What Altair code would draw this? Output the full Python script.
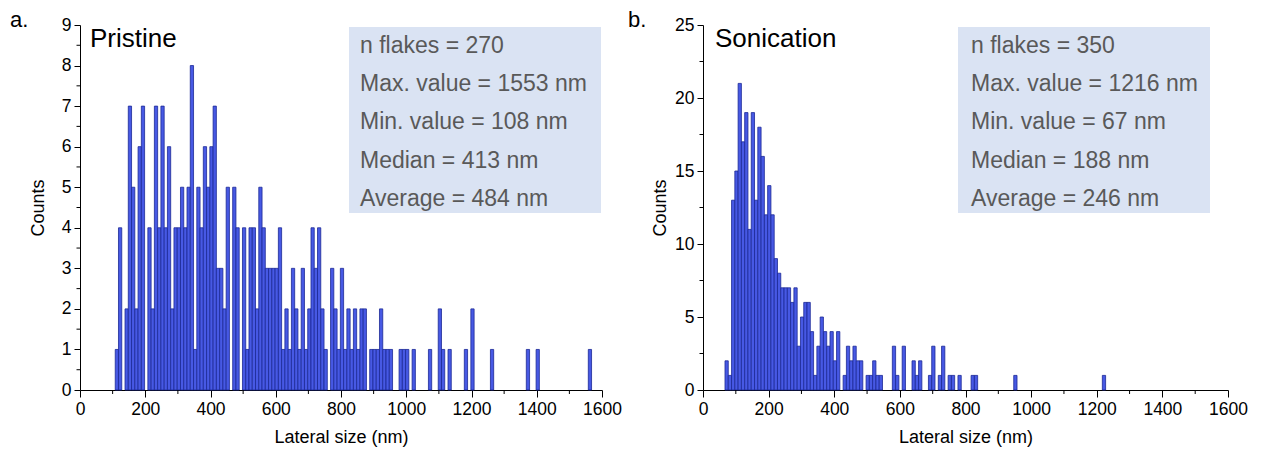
import altair as alt
import pandas as pd

FONT = "Liberation Sans"

# ---------------- data ----------------
bin_width = 10

# Panel a (Pristine): histogram counts per 10 nm bin, first bin starting at 108 nm
a_bin_start = 108
a_counts = [1, 4, 0, 2, 7, 5, 2, 6, 7, 0,
            4, 2, 7, 4, 7, 4, 6, 2, 4, 4,
            5, 4, 5, 8, 1, 5, 4, 6, 5, 6,
            7, 3, 3, 2, 5, 0, 5, 4, 0, 4,
            1, 4, 4, 2, 5, 4, 3, 3, 3, 3,
            4, 1, 2, 1, 3, 2, 1, 3, 1, 2,
            4, 3, 4, 2, 1, 0, 3, 2, 1, 3,
            1, 2, 1, 2, 1, 2, 2, 0, 1, 1,
            1, 2, 1, 1, 1, 0, 0, 1, 1, 1,
            0, 1, 0, 0, 0, 0, 1, 0, 0, 2,
            1, 0, 1, 0, 0, 0, 0, 1, 0, 2,
            0, 0, 0, 0, 0, 1, 0, 0, 0, 0,
            0, 0, 0, 0, 0, 0, 1, 0, 0, 1,
            0, 0, 0, 0, 0, 0, 0, 0, 0, 0,
            0, 0, 0, 0, 0, 1]

# Panel b (Sonication): first bin starting at 67 nm
b_bin_start = 67
b_counts = [2, 1, 13, 15, 21, 17, 19, 11, 19, 13,
            18, 16, 12, 14, 12, 9, 8, 7, 7, 7,
            6, 7, 3, 5, 6, 6, 4, 1, 3, 5,
            4, 3, 4, 2, 4, 0, 1, 3, 2, 3,
            2, 2, 0, 1, 1, 2, 1, 1, 0, 0,
            0, 3, 1, 0, 3, 0, 0, 2, 1, 2,
            0, 0, 1, 3, 0, 1, 3, 0, 1, 1,
            0, 1, 0, 0, 0, 1, 1, 0, 0, 0,
            0, 0, 0, 0, 0, 0, 0, 0, 1, 0,
            0, 0, 0, 0, 0, 0, 0, 0, 0, 0,
            0, 0, 0, 0, 0, 0, 0, 0, 0, 0,
            0, 0, 0, 0, 0, 1]

a_stats = ["n flakes = 270", "Max. value = 1553 nm", "Min. value = 108 nm",
           "Median = 413 nm", "Average = 484 nm"]
b_stats = ["n flakes = 350", "Max. value = 1216 nm", "Min. value = 67 nm",
           "Median = 188 nm", "Average = 246 nm"]

x_major = [0, 200, 400, 600, 800, 1000, 1200, 1400, 1600]
x_minor = [100, 300, 500, 700, 900, 1100, 1300, 1500]
a_y_major = [0, 1, 2, 3, 4, 5, 6, 7, 8, 9]
a_y_minor = [0.5, 1.5, 2.5, 3.5, 4.5, 5.5, 6.5, 7.5, 8.5]
b_y_major = [0, 5, 10, 15, 20, 25]
b_y_minor = [2.5, 7.5, 12.5, 17.5, 22.5]

BAR_FILL = "#4759E4"
BAR_STROKE = "#1C2896"
BOX_FILL = "#DAE3F3"
STAT_COLOR = "#595959"


def panel(bin_start, counts, ymax, y_major, y_minor, stats, name, letter,
          width, height, box_x, text_x, title_pad, letter_x, name_x):
    starts = [bin_start + i * bin_width for i in range(len(counts))]
    df = pd.DataFrame({"start": starts,
                       "end": [s + bin_width for s in starts],
                       "count": counts})
    df = df[df["count"] > 0]

    xscale = alt.Scale(domain=[0, 1600], nice=False, zero=False)
    yscale = alt.Scale(domain=[0, ymax], nice=False)

    bars = alt.Chart(df).mark_rect(
        fill=BAR_FILL, stroke=BAR_STROKE, strokeWidth=0.8
    ).encode(
        x=alt.X("start:Q", scale=xscale,
                axis=alt.Axis(values=x_major, title="Lateral size (nm)",
                              format="d", tickSize=7, labelPadding=3,
                              labelFlush=False, titlePadding=11)),
        x2="end:Q",
        y=alt.Y("count:Q", scale=yscale,
                axis=alt.Axis(values=y_major, title="Counts", format="d",
                              tickSize=6, labelPadding=3, labelFlush=False,
                              titlePadding=title_pad)),
        y2=alt.datum(0),
    )

    xminor = alt.Chart(pd.DataFrame({"start": x_minor})).mark_rule(
        color="black", strokeWidth=1
    ).encode(
        x=alt.X("start:Q", scale=xscale),
        y=alt.value(height),
        y2=alt.value(height + 4),
    )
    yminor = alt.Chart(pd.DataFrame({"count": y_minor})).mark_rule(
        color="black", strokeWidth=1
    ).encode(
        y=alt.Y("count:Q", scale=yscale),
        x=alt.value(0),
        x2=alt.value(-3.5),
    )

    one = pd.DataFrame({"k": [0]})
    box = alt.Chart(one).mark_rect(fill=BOX_FILL).encode(
        x=alt.value(box_x), x2=alt.value(box_x + 252),
        y=alt.value(2), y2=alt.value(188),
    )
    stat_text = alt.Chart(one).mark_text(
        align="left", baseline="alphabetic", font=FONT, fontSize=23,
        lineHeight=38.4, color=STAT_COLOR, lineBreak="\n"
    ).encode(
        x=alt.value(text_x), y=alt.value(27.5),
        text=alt.value("\n".join(stats)),
    )
    name_text = alt.Chart(one).mark_text(
        align="left", baseline="alphabetic", font=FONT, fontSize=26,
        color="black"
    ).encode(x=alt.value(name_x), y=alt.value(22), text=alt.value(name))
    letter_text = alt.Chart(one).mark_text(
        align="left", baseline="alphabetic", font=FONT, fontSize=22,
        color="black"
    ).encode(x=alt.value(letter_x), y=alt.value(2), text=alt.value(letter))

    return alt.layer(box, bars, xminor, yminor, stat_text, name_text,
                     letter_text).properties(width=width, height=height)


pa = panel(a_bin_start, a_counts, 9, a_y_major, a_y_minor, a_stats,
           "Pristine", "a.", 522, 365, 269, 280, 14, -70, 10)
pb = panel(b_bin_start, b_counts, 25, b_y_major, b_y_minor, b_stats,
           "Sonication", "b.", 525, 365, 255, 268, 5, -75, 12)

chart = alt.hconcat(pa, pb, spacing=5).properties(
    padding={"left": 9, "top": 8, "right": 5, "bottom": 5}
).configure_view(stroke="transparent").configure_axis(
    labelFont=FONT, titleFont=FONT, labelFontSize=17.5, titleFontSize=18,
    titleFontWeight="normal", labelColor="black", titleColor="black",
    domainColor="black", tickColor="black", grid=False, domainWidth=1,
    tickWidth=1,
)

chart.save("out.html", embed_options={"renderer": "svg", "actions": False})
